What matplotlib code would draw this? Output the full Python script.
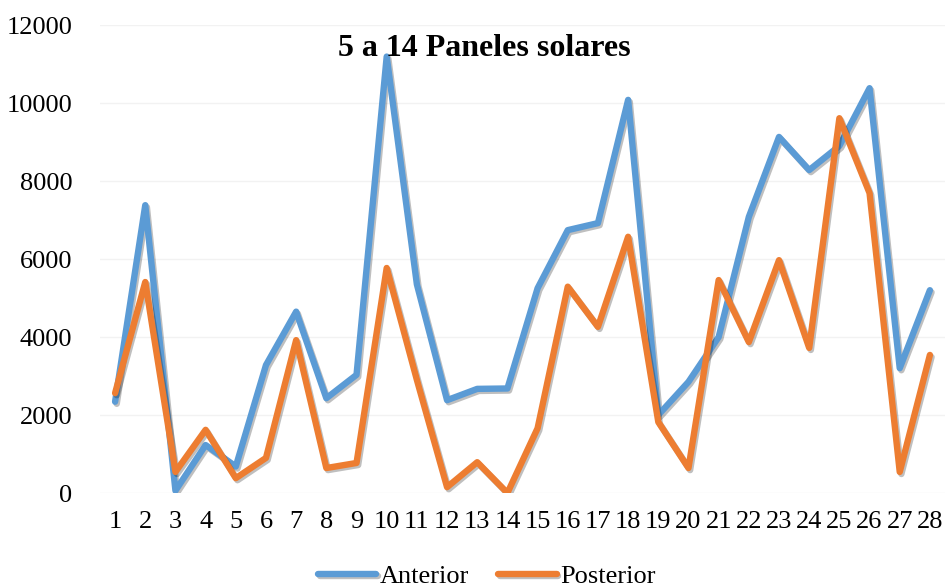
import matplotlib
matplotlib.use("Agg")
import matplotlib.pyplot as plt
import matplotlib.patheffects as pe

# datos
dias = list(range(1, 29))
anterior = [2340, 7380, 60, 1230, 680, 3280, 4650, 2430, 3030, 11190,
            5350, 2380, 2670, 2680, 5250, 6740, 6920, 10080, 2000, 2850,
            4000, 7080, 9130, 8280, 8900, 10380, 3200, 5200]
posterior = [2560, 5410, 540, 1620, 380, 900, 3920, 640, 770, 5770,
             2900, 150, 790, 0, 1660, 5290, 4260, 6570, 1820, 640,
             5460, 3870, 5970, 3720, 9610, 7690, 540, 3540]
yticks = [0, 2000, 4000, 6000, 8000, 10000, 12000]

plt.rcParams['font.family'] = ['Liberation Serif', 'DejaVu Serif']

fig = plt.figure(figsize=(9.48, 5.87), dpi=100)
ax = fig.add_axes([100 / 948, 1 - 493 / 587, 845 / 948, 468 / 587])

sombra = [pe.SimpleLineShadow(offset=(1.2, -1.5), alpha=0.25, shadow_color='black'), pe.Normal()]
ax.plot(dias, anterior, color='#5B9BD5', lw=4.6, label='Anterior',
        solid_joinstyle='round', solid_capstyle='round', path_effects=sombra, zorder=3)
ax.plot(dias, posterior, color='#ED7D31', lw=4.6, label='Posterior',
        solid_joinstyle='round', solid_capstyle='round', path_effects=sombra, zorder=4)

ax.set_xlim(0.5, 28.5)
ax.set_ylim(0, 12000)
ax.set_xticks(dias)
ax.set_xticklabels([str(d) for d in dias])
ax.set_yticks(yticks)
ax.tick_params(axis='both', length=0, labelsize=19)
ax.tick_params(axis='x', pad=13)
ax.tick_params(axis='y', pad=20)
for s in ax.spines.values():
    s.set_visible(False)
ax.grid(axis='y', color='#f2f2f2', lw=1)
ax.set_axisbelow(True)

fig.text(484 / 948, 1 - 49 / 587, '5 a 14 Paneles solares', ha='center', va='center',
         fontsize=23, fontweight='bold')

fig.legend(loc='center', bbox_to_anchor=(487 / 948, 1 - 576 / 587), ncol=2, frameon=False,
           fontsize=19, handlelength=2.2, handletextpad=0.15, columnspacing=1.1)

fig.savefig('out.png', dpi=100)
